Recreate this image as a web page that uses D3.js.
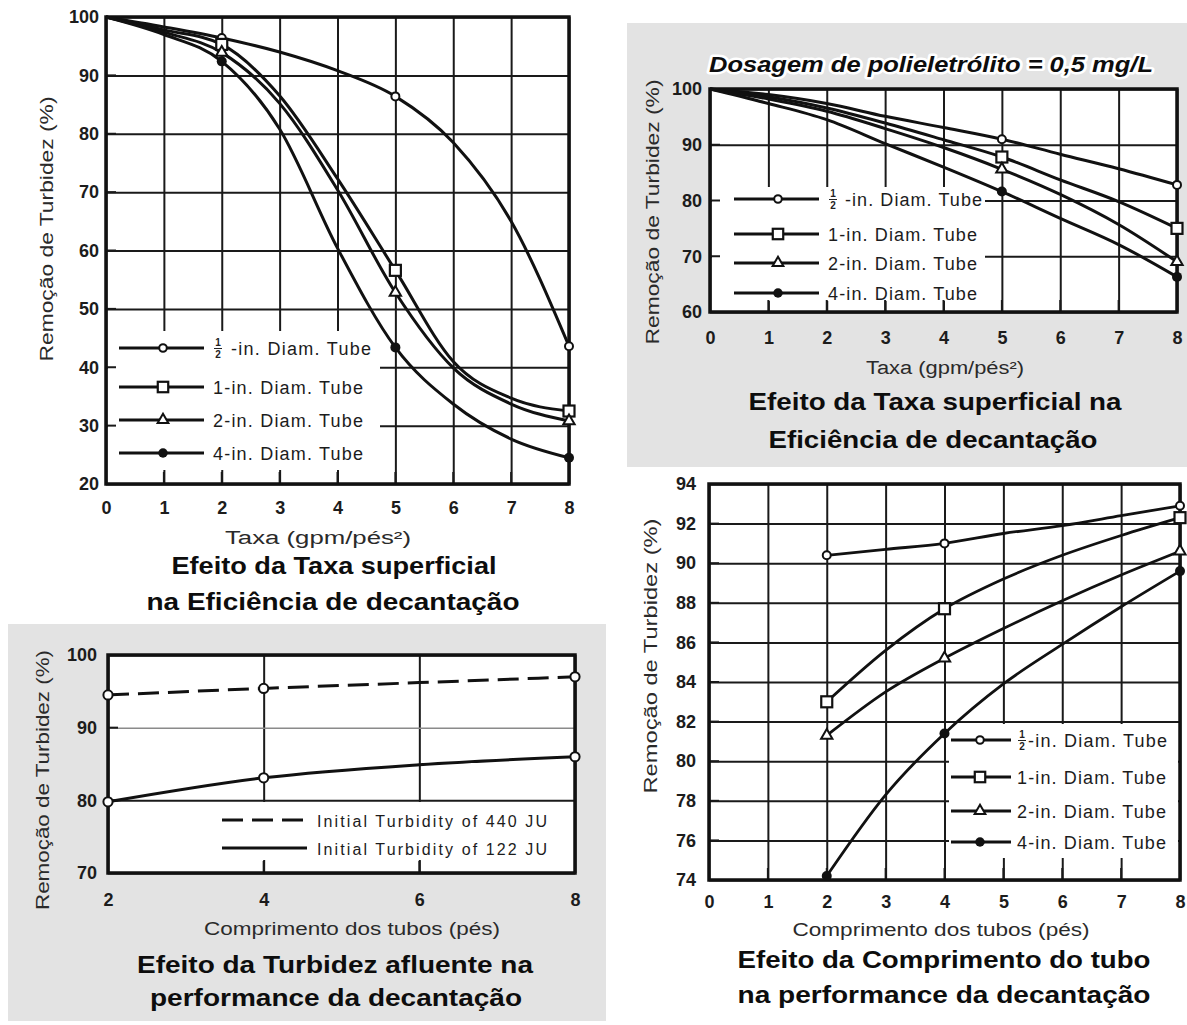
<!DOCTYPE html>
<html>
<head>
<meta charset="utf-8">
<script src="https://cdn.jsdelivr.net/npm/d3@7"></script>
<style>
body { margin: 0; background: #fff; }
svg { display: block; }
</style>
</head>
<body>
<div id="container"></div>
<script>
// ---- data ----
// top left: taxa superficial vs remoção
const taxa = [0, 1, 2, 3, 4, 5, 6, 7, 8];
const half1 = [100, 98.3, 96.4, 94.0, 90.8, 86.4, 78.5, 65.0, 43.6];
const one1 = [100, 97.8, 95.3, 86.5, 72.3, 56.6, 41.0, 34.7, 32.5];
const two1 = [100, 97.4, 93.9, 85.2, 70.4, 52.8, 39.9, 33.7, 30.8];
const four1 = [100, 97.0, 92.4, 80.8, 60.4, 43.4, 33.7, 27.7, 24.5];
const markersAt1 = [2, 5, 8];

// top right: dosagem de polieletrólito 0,5 mg/L
const half2 = [100, 99.0, 97.4, 95.1, 93.1, 91.0, 88.3, 85.7, 82.8];
const one2 = [100, 98.6, 96.6, 93.9, 90.9, 87.8, 83.7, 79.8, 75.0];
const two2 = [100, 98.2, 96.0, 92.9, 89.5, 85.6, 81.1, 75.7, 69.0];
const four2 = [100, 97.4, 94.5, 90.2, 86.0, 81.6, 76.8, 72.1, 66.3];
const markersAt2 = [5, 8];

// bottom left: turbidez afluente
const comp3 = [2, 4, 6, 8];
const turb440 = [94.5, 95.4, 96.2, 97.0];
const turb122 = [79.8, 83.1, 84.9, 86.0];
const markersAt3 = [2, 4, 8];

// bottom right: comprimento do tubo
const comp4 = [2, 3, 4, 5, 6, 7, 8];
const half4 = [90.4, 90.7, 91.0, 91.5, 91.9, 92.4, 92.9];
const one4 = [83.0, 85.6, 87.7, 89.2, 90.4, 91.4, 92.3];
const two4 = [81.3, 83.5, 85.2, 86.7, 88.1, 89.4, 90.6];
const four4 = [74.2, 78.3, 81.4, 83.9, 85.9, 87.8, 89.6];
const markersAt4 = [2, 4, 8];

// labels / ticks
const tubeLabels = ["½", "1", "2", "4"];
const tubeMarkers = ["circle", "square", "triangle", "dot"];
const turbLabels = ["Initial Turbidity of 440 JU", "Initial Turbidity of 122 JU"];
const xTicks0to8 = [0, 1, 2, 3, 4, 5, 6, 7, 8];
const xTicks3 = [2, 4, 6, 8];
const yTicks1 = [20, 30, 40, 50, 60, 70, 80, 90, 100];
const yTicks2 = [60, 70, 80, 90, 100];
const yTicks3 = [70, 80, 90, 100];
const yTicks4 = [74, 76, 78, 80, 82, 84, 86, 88, 90, 92, 94];

const yTitle = "Remoção de Turbidez  (%)";
const FONT = "'Liberation Sans', Arial, sans-serif";

const width = 1187;
const height = 1025;

const svg = d3.select("#container")
    .append("svg")
    .attr("width", width)
    .attr("height", height);

// grey backgrounds of the two scanned panels
svg.append("rect").attr("x", 627).attr("y", 23).attr("width", 560).attr("height", 444).attr("fill", "#e3e3e3");
svg.append("rect").attr("x", 8).attr("y", 624).attr("width", 598).attr("height", 397).attr("fill", "#e3e3e3");

function addText(g, x, y, str, o) {
    const t = g.append("text")
        .attr("x", x).attr("y", y)
        .attr("font-family", FONT)
        .attr("font-size", o.size || 18)
        .attr("font-weight", o.weight || "normal")
        .attr("font-style", o.style || "normal")
        .attr("fill", o.fill || "#111")
        .attr("text-anchor", o.anchor || "start")
        .text(str);
    if (o.len) t.attr("textLength", o.len).attr("lengthAdjust", o.adjust || "spacingAndGlyphs");
    if (o.rotate) t.attr("transform", `rotate(-90,${x},${y})`);
    if (o.halo) t.attr("stroke", "#fff").attr("stroke-width", o.halo).attr("paint-order", "stroke").attr("stroke-linejoin", "round");
    return t;
}

function drawMarker(g, type, cx, cy, s) {
    if (type === "circle") {
        g.append("circle").attr("cx", cx).attr("cy", cy).attr("r", 4 * s)
            .attr("fill", "#fff").attr("stroke", "#111").attr("stroke-width", 2);
    } else if (type === "square") {
        g.append("rect").attr("x", cx - 5.5 * s).attr("y", cy - 5.5 * s)
            .attr("width", 11 * s).attr("height", 11 * s)
            .attr("fill", "#fff").attr("stroke", "#111").attr("stroke-width", 2.2);
    } else if (type === "triangle") {
        const r = 6.5 * s;
        const pts = [[cx, cy - r], [cx + r * 0.87, cy + r * 0.5], [cx - r * 0.87, cy + r * 0.5]];
        g.append("path").attr("d", "M" + pts.join("L") + "Z")
            .attr("fill", "#fff").attr("stroke", "#111").attr("stroke-width", 2);
    } else {
        g.append("circle").attr("cx", cx).attr("cy", cy).attr("r", 5 * s).attr("fill", "#111");
    }
}

function drawPanel(p) {
    const x = d3.scaleLinear().domain(p.xDomain).range(p.xRange);
    const y = d3.scaleLinear().domain(p.yDomain).range(p.yRange);
    const w = p.xRange[1] - p.xRange[0];
    const h = p.yRange[0] - p.yRange[1];
    const g = svg.append("g");

    g.append("rect").attr("x", p.xRange[0]).attr("y", p.yRange[1])
        .attr("width", w).attr("height", h).attr("fill", "#fff");

    // grid lines and tick labels come from the axes
    const xAxis = g.append("g")
        .attr("transform", "translate(0," + p.yRange[0] + ")")
        .call(d3.axisBottom(x).tickValues(p.xTicks).tickSize(-h).tickPadding(p.xPad).tickFormat(d3.format("d")));
    const yAxis = g.append("g")
        .attr("transform", "translate(" + p.xRange[0] + ",0)")
        .call(d3.axisLeft(y).tickValues(p.yTicks).tickSize(-w).tickPadding(p.yPad).tickFormat(d3.format("d")));
    for (const a of [xAxis, yAxis]) {
        a.select(".domain").remove();
        a.selectAll(".tick line").attr("stroke", "#1a1a1a").attr("stroke-width", 2);
        a.selectAll(".tick text")
            .attr("font-family", FONT).attr("font-size", 18)
            .attr("font-weight", "bold").attr("fill", "#1c1c1c");
    }
    if (p.lightY) {
        yAxis.selectAll(".tick line").filter(d => p.lightY.includes(d))
            .attr("stroke", "#8a8a8a").attr("stroke-width", 1.5);
    }

    // blank area behind the legend
    const lb = p.legendBox;
    g.append("rect").attr("x", lb[0]).attr("y", lb[1]).attr("width", lb[2]).attr("height", lb[3]).attr("fill", "#fff");

    // short inner ticks along the frame
    const tk = g.append("g").attr("stroke", "#1a1a1a").attr("stroke-width", 2);
    tk.selectAll(".bt").data(p.xTicks).join("line")
        .attr("x1", d => x(d)).attr("x2", d => x(d))
        .attr("y1", p.yRange[0]).attr("y2", p.yRange[0] - 12);
    tk.selectAll(".lt").data(p.yTicks).join("line").attr("class", "lt")
        .attr("x1", p.xRange[0]).attr("x2", p.xRange[0] + 10)
        .attr("y1", d => y(d)).attr("y2", d => y(d));

    // frame
    g.append("rect").attr("x", p.xRange[0]).attr("y", p.yRange[1])
        .attr("width", w).attr("height", h)
        .attr("fill", "none").attr("stroke", "#111").attr("stroke-width", 3.5);

    // curves
    const line = d3.line()
        .x(d => x(d[0]))
        .y(d => y(d[1]))
        .curve(d3.curveMonotoneX);
    for (const s of p.series) {
        const pts = p.xs.map((v, i) => [v, s.values[i]]);
        g.append("path").datum(pts)
            .attr("fill", "none").attr("stroke", "#111")
            .attr("stroke-width", p.lw)
            .attr("stroke-dasharray", s.dash || null)
            .attr("d", line);
    }
    for (const s of p.series) {
        p.xs.forEach((v, i) => {
            if (p.markersAt.includes(v)) drawMarker(g, s.marker, x(v), y(s.values[i]), p.ms);
        });
    }

    // legend
    const L = p.legend;
    p.series.forEach((s, i) => {
        const ry = L.rows[i];
        g.append("line").attr("x1", L.x0).attr("x2", L.x1).attr("y1", ry).attr("y2", ry)
            .attr("stroke", "#111").attr("stroke-width", 3.2)
            .attr("stroke-dasharray", s.dash || null);
        if (L.mx) drawMarker(g, s.marker, L.mx, ry, p.ms * 0.95);
        if (s.label === "½") {
            addText(g, L.tx + 5, ry - 2, "1", { size: 10, weight: "bold", anchor: "middle", fill: "#222" });
            g.append("line").attr("x1", L.tx + 1).attr("x2", L.tx + 9).attr("y1", ry + 0.5).attr("y2", ry + 0.5)
                .attr("stroke", "#222").attr("stroke-width", 1);
            addText(g, L.tx + 5, ry + 10, "2", { size: 10, weight: "bold", anchor: "middle", fill: "#222" });
            addText(g, L.fx, ry + 6.5, "-in. Diam. Tube", { size: 18, fill: "#1c1c1c", len: L.fw, adjust: "spacing" });
        } else {
            const str = s.text || (s.label + "-in. Diam. Tube");
            addText(g, L.tx, ry + 6.5, str, { size: L.size || 18, fill: "#1c1c1c", len: L.w, adjust: "spacing" });
        }
    });

    // titles
    const t = p.titles;
    addText(g, t.yt[0], t.yt[1], yTitle, { size: 19, fill: "#2a2a2a", anchor: "middle", rotate: true, len: t.yt[2] });
    addText(g, t.xt[0], t.xt[1], t.xt[3], { size: 18, fill: "#2a2a2a", anchor: "middle", len: t.xt[2] });
    t.main.forEach(m => addText(g, m[0], m[1], m[3], { size: 24, weight: "bold", fill: "#0d0d0d", anchor: "middle", len: m[2] }));
}

function tubeSeries(vals) {
    return vals.map((v, i) => ({ label: tubeLabels[i], marker: tubeMarkers[i], values: v }));
}

// top left
drawPanel({
    xDomain: [0, 8], xRange: [106, 569],
    yDomain: [20, 100], yRange: [484, 17],
    xTicks: xTicks0to8, yTicks: yTicks1, xPad: 17, yPad: 7,
    xs: taxa, series: tubeSeries([half1, one1, two1, four1]),
    markersAt: markersAt1, lw: 3, ms: 1,
    legendBox: [108, 331, 272, 139],
    legend: { x0: 119, x1: 204, mx: 163, tx: 213, fx: 231, fw: 140, w: 150, rows: [348, 387, 420, 453] },
    titles: {
        yt: [53, 229, 265],
        xt: [318, 544, 186, "Taxa (gpm/pés²)"],
        main: [[334, 574, 325, "Efeito da Taxa superficial"], [333, 610, 373, "na Eficiência  de decantação"]]
    }
});

// top right
drawPanel({
    xDomain: [0, 8], xRange: [710, 1177],
    yDomain: [60, 100], yRange: [312, 89],
    xTicks: xTicks0to8, yTicks: yTicks2, xPad: 19, yPad: 8,
    xs: taxa, series: tubeSeries([half2, one2, two2, four2]),
    markersAt: markersAt2, lw: 3, ms: 1,
    legendBox: [712, 187, 273, 114],
    legend: { x0: 734, x1: 819, mx: 778, tx: 828, fx: 845, fw: 137, w: 149, rows: [199, 234, 263, 293] },
    titles: {
        yt: [659, 212, 265],
        xt: [945, 374, 158, "Taxa (gpm/pés²)"],
        main: [[935, 410, 373, "Efeito da Taxa superficial  na"], [933, 448, 329, "Eficiência  de decantação"]]
    }
});
addText(svg, 931, 72, "Dosagem de polieletrólito = 0,5 mg/L",
    { size: 22, weight: "bold", style: "italic", anchor: "middle", len: 444, halo: 5, fill: "#0d0d0d" });

// bottom left
drawPanel({
    xDomain: [2, 8], xRange: [108, 575],
    yDomain: [70, 100], yRange: [873, 655],
    xTicks: xTicks3, yTicks: yTicks3, xPad: 20, yPad: 11, lightY: [90],
    xs: comp3,
    series: [
        { text: turbLabels[0], marker: "circle", values: turb440, dash: "21,9" },
        { text: turbLabels[1], marker: "circle", values: turb122 }
    ],
    markersAt: markersAt3, lw: 3, ms: 1.15,
    legendBox: [110, 802, 463, 58],
    legend: { x0: 222, x1: 307, tx: 317, w: 230, size: 16, rows: [820, 848] },
    titles: {
        yt: [49, 780, 260],
        xt: [352, 935, 296, "Comprimento  dos tubos (pés)"],
        main: [[335, 973, 396, "Efeito da Turbidez afluente  na"], [336, 1006, 372, "performance  da decantação"]]
    }
});

// bottom right
drawPanel({
    xDomain: [0, 8], xRange: [709, 1180],
    yDomain: [74, 94], yRange: [880, 484],
    xTicks: xTicks0to8, yTicks: yTicks4, xPad: 15, yPad: 13,
    xs: comp4, series: tubeSeries([half4, one4, two4, four4]),
    markersAt: markersAt4, lw: 2.8, ms: 1,
    legendBox: [949, 724, 229, 134],
    legend: { x0: 951, x1: 1011, mx: 980, tx: 1017, fx: 1028, fw: 139, w: 149, rows: [740, 777, 811, 842] },
    titles: {
        yt: [657, 656, 275],
        xt: [941, 936, 297, "Comprimento  dos tubos (pés)"],
        main: [[944, 968, 413, "Efeito da Comprimento  do tubo"], [944, 1003, 413, "na performance  da decantação"]]
    }
});
</script>
</body>
</html>
